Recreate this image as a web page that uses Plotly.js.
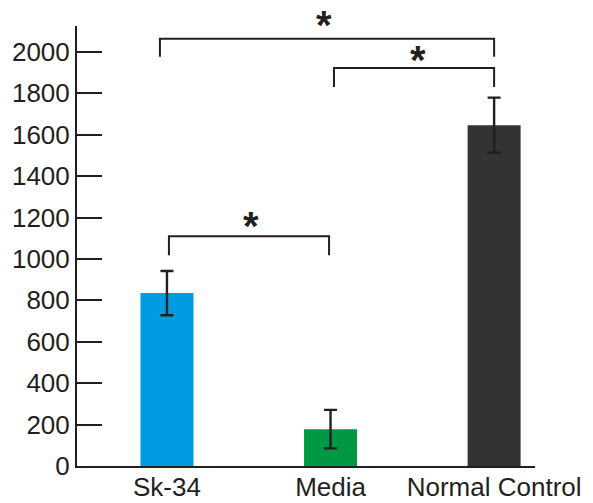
<!DOCTYPE html>
<html>
<head>
<meta charset="utf-8">
<script src="https://cdn.plot.ly/plotly-3.0.1.min.js"></script>
<style>html,body{margin:0;padding:0;background:#fff;}#chart{width:593px;height:503px;}</style>
</head>
<body>
<div id="chart"></div>
<script>
const categories = ["Sk-34", "Media", "Normal Control"];
const values = [835, 178, 1646];
const errors = [107, 93, 133];
const barColors = ["#009be1", "#009844", "#333333"];
const yTicks = [0, 200, 400, 600, 800, 1000, 1200, 1400, 1600, 1800, 2000];
const ink = "#231f20";

// significance brackets (category-index units / data units)
const brackets = [
  {x0: -0.043, x1: 2.0, y: 2063, yLeg: 1976},
  {x0: 1.021, x1: 2.0, y: 1922, yLeg: 1830},
  {x0: 0.012, x1: 0.991, y: 1110, yLeg: 1018}
];
const stars = [
  {x: 0.963, y: 1.002, yref: "paper"},
  {x: 1.532, y: 1963, yref: "y"},
  {x: 0.511, y: 1159, yref: "y"}
];

const shapes = brackets.map(b => ({type: "path", xref: "x", yref: "y",
  path: `M ${b.x0},${b.yLeg} L ${b.x0},${b.y} L ${b.x1},${b.y} L ${b.x1},${b.yLeg}`,
  line: {color: ink, width: 2}}));
const annotations = stars.map(s => ({xref: "x", yref: s.yref, x: s.x, y: s.y, text: "<b>*</b>",
  showarrow: false, xanchor: "center", yanchor: "middle",
  font: {family: "Liberation Sans, Arial, sans-serif", size: 40, color: ink}}));

const trace = {
  type: "bar",
  x: categories,
  y: values,
  width: 0.324,
  marker: {color: barColors, line: {width: 0}},
  error_y: {type: "data", array: errors, visible: true, color: ink, thickness: 2.4, width: 6.5}
};

const layout = {
  width: 593, height: 503,
  margin: {l: 77, r: 58, t: 26, b: 37, pad: 0},
  paper_bgcolor: "#fff", plot_bgcolor: "#fff",
  showlegend: false,
  font: {family: "Liberation Sans, Arial, sans-serif", color: ink},
  xaxis: {type: "category", range: [-0.55, 2.25], showgrid: false, zeroline: false,
    showline: true, linecolor: ink, linewidth: 2, ticks: "", fixedrange: true,
    ticklabelstandoff: -3,
    tickfont: {size: 26, color: ink}},
  yaxis: {range: [0, 2125], tickvals: yTicks, showgrid: false, zeroline: false,
    showline: true, linecolor: ink, linewidth: 2, ticks: "inside", ticklen: 25,
    tickwidth: 2, tickcolor: ink, tickfont: {size: 26, color: ink}},
  shapes: shapes,
  annotations: annotations
};

Plotly.newPlot("chart", [trace], layout, {displayModeBar: false, staticPlot: true});
</script>
</body>
</html>
